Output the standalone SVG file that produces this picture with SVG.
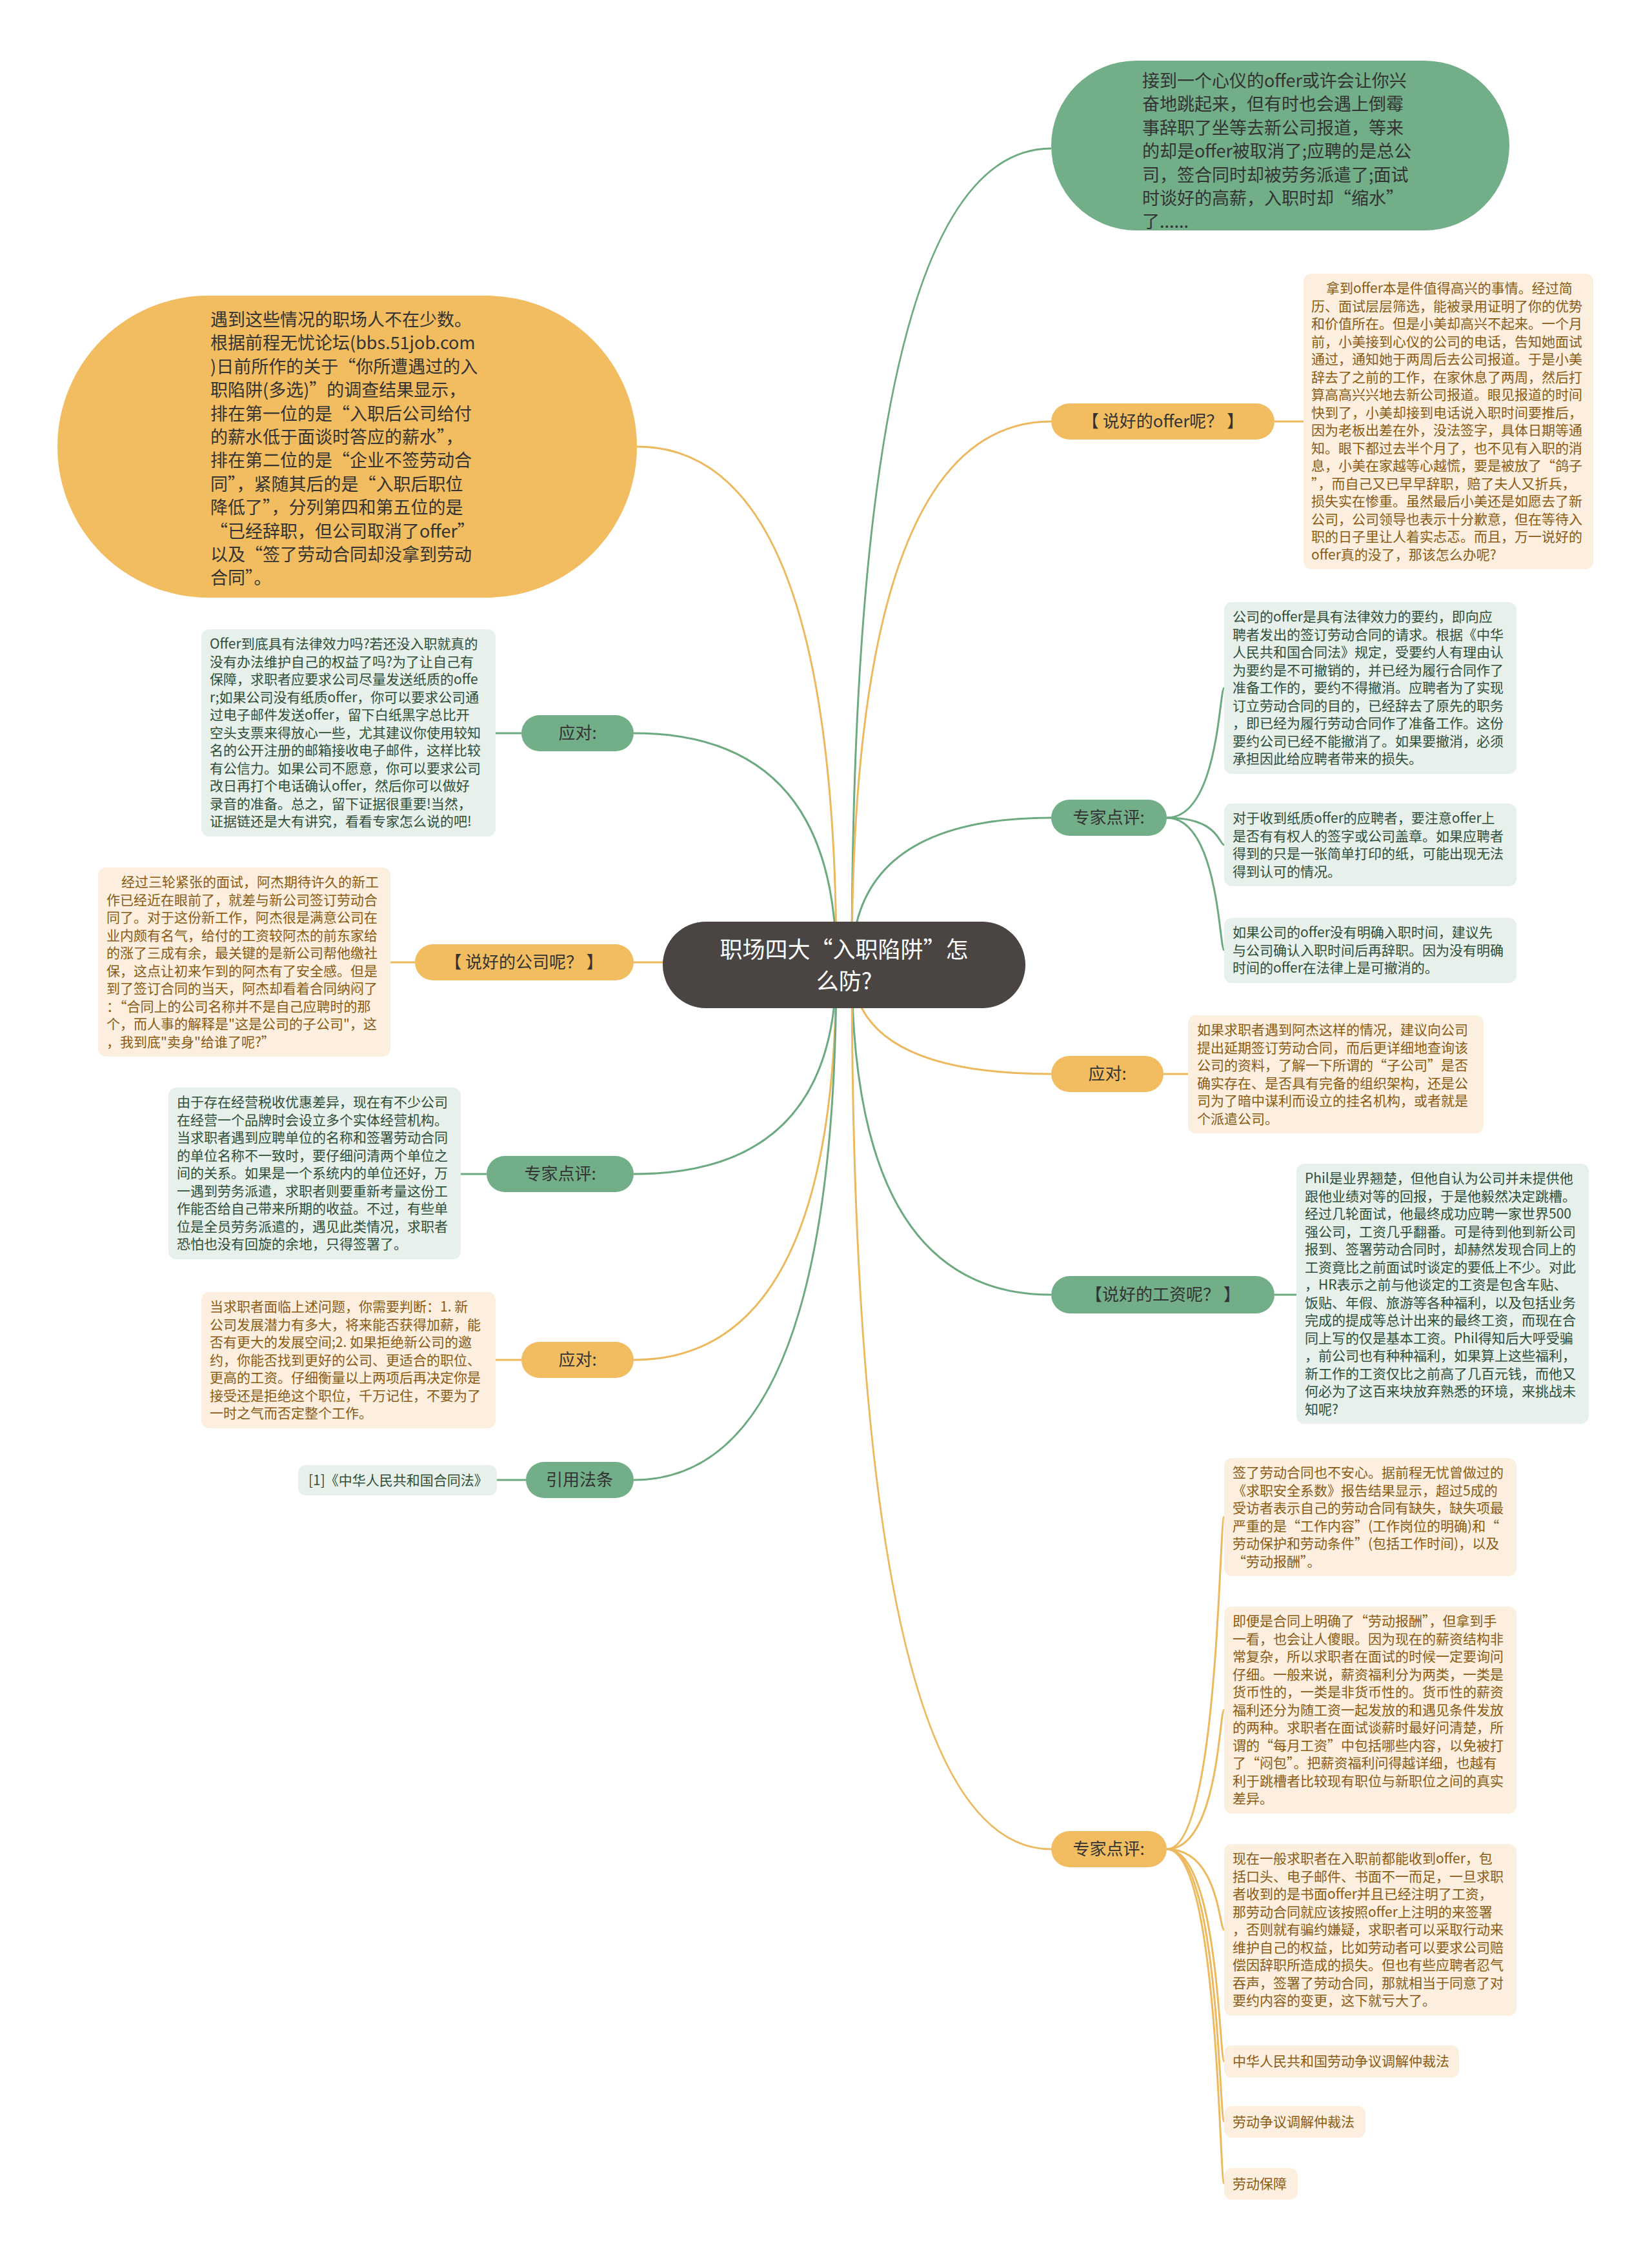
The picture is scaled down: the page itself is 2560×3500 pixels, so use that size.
<svg xmlns="http://www.w3.org/2000/svg" width="2560" height="3500" viewBox="0 0 2560 3500">
<style>
text{font-family:"Noto Sans CJK SC","Noto Sans",sans-serif}
.bg{fill:#ffffff}
.lg{fill:none;stroke:#6daa82;stroke-width:3}
.ly{fill:none;stroke:#ecb95e;stroke-width:3}
.pgb{fill:#e7f0ea}
.pyb{fill:#fcefdf}
.pgt{font-size:21px;fill:#2f4e3a}
.pyt{font-size:21px;fill:#8a5b15}
.glb{fill:#72ae88}
.ylb{fill:#f2bd61}
.lbt{font-size:26px;fill:#333333;text-anchor:middle}
.elt{font-size:27px;fill:#333333}
</style>
<rect class="bg" x="0" y="0" width="2560" height="3500"/>
<g id="connectors">
<path class="lg" d="M1320 1495 Q1320 230 1629 230"/>
<path class="ly" d="M1320 1495 Q1320 653 1629 653"/>
<path class="lg" d="M1320 1495 Q1320 1267 1629 1267"/>
<path class="ly" d="M1320 1495 Q1320 1664 1629 1664"/>
<path class="lg" d="M1320 1495 Q1320 2006 1629 2006"/>
<path class="ly" d="M1320 1495 Q1320 2865 1629 2865"/>
<path class="ly" d="M1296 1495 Q1296 692 987 692"/>
<path class="lg" d="M1296 1495 Q1296 1136 982 1136"/>
<path class="ly" d="M1296 1495 Q1296 1491 982 1491"/>
<path class="lg" d="M1296 1495 Q1296 1819 982 1819"/>
<path class="ly" d="M1296 1495 Q1296 2107 982 2107"/>
<path class="lg" d="M1296 1495 Q1296 2293 982 2293"/>
<path class="ly" d="M1975 653 L2020 653"/>
<path class="lg" d="M1808 1267 C1889 1267 1889 1066 1897 1066"/>
<path class="lg" d="M1808 1267 C1889 1267 1889 1309 1897 1309"/>
<path class="lg" d="M1808 1267 C1889 1267 1889 1472 1897 1472"/>
<path class="ly" d="M1803 1664 L1841 1664"/>
<path class="lg" d="M1975 2006 L2009 2006"/>
<path class="ly" d="M1808 2865 C1889 2865 1889 2350 1897 2350"/>
<path class="ly" d="M1808 2865 C1889 2865 1889 2649 1897 2649"/>
<path class="ly" d="M1808 2865 C1889 2865 1889 2990 1897 2990"/>
<path class="ly" d="M1808 2865 C1889 2865 1889 3194 1897 3194"/>
<path class="ly" d="M1808 2865 C1889 2865 1889 3287 1897 3287"/>
<path class="ly" d="M1808 2865 C1889 2865 1889 3383 1897 3383"/>
<path class="lg" d="M808 1136 L768 1136"/>
<path class="ly" d="M643 1491 L605 1491"/>
<path class="lg" d="M754 1819 L714 1819"/>
<path class="ly" d="M808 2107 L768 2107"/>
<path class="lg" d="M815 2293 L770 2293"/>
</g>
<g id="root">
<rect x="1027" y="1428" width="562" height="134" rx="67" fill="#4a4542"/>
<text x="1308" y="1484" font-size="35" fill="#ffffff" text-anchor="middle">职场四大“入职陷阱”怎</text>
<text x="1308" y="1533" font-size="35" fill="#ffffff" text-anchor="middle">么防?</text>
</g>
<g id="n-top-ellipse">
<rect x="1629" y="94" width="710" height="263" rx="131.5" class="glb"/>
<text class="elt" x="1770" y="135">接到一个心仪的offer或许会让你兴<tspan x="1770" dy="36.4">奋地跳起来，但有时也会遇上倒霉</tspan><tspan x="1770" dy="36.4">事辞职了坐等去新公司报道，等来</tspan><tspan x="1770" dy="36.4">的却是offer被取消了;应聘的是总公</tspan><tspan x="1770" dy="36.4">司，签合同时却被劳务派遣了;面试</tspan><tspan x="1770" dy="36.4">时谈好的高薪，入职时却“缩水”</tspan><tspan x="1770" dy="36.4">了......</tspan></text>
</g>
<g id="n-left-ellipse">
<rect x="89" y="458" width="898" height="468" rx="234" class="ylb"/>
<text class="elt" x="326" y="505">遇到这些情况的职场人不在少数。<tspan x="326" dy="36.4">根据前程无忧论坛(bbs.51job.com</tspan><tspan x="326" dy="36.4">)日前所作的关于“你所遭遇过的入</tspan><tspan x="326" dy="36.4">职陷阱(多选)”的调查结果显示，</tspan><tspan x="326" dy="36.4">排在第一位的是“入职后公司给付</tspan><tspan x="326" dy="36.4">的薪水低于面谈时答应的薪水”，</tspan><tspan x="326" dy="36.4">排在第二位的是“企业不签劳动合</tspan><tspan x="326" dy="36.4">同”，紧随其后的是“入职后职位</tspan><tspan x="326" dy="36.4">降低了”，分列第四和第五位的是</tspan><tspan x="326" dy="36.4">“已经辞职，但公司取消了offer”</tspan><tspan x="326" dy="36.4">以及“签了劳动合同却没拿到劳动</tspan><tspan x="326" dy="36.4">合同”。</tspan></text>
</g>
<g id="n-offer-label">
<rect x="1629" y="625" width="346" height="56" rx="28" class="ylb"/>
<text class="lbt" x="1802" y="662">【 说好的offer呢？ 】</text>
</g>
<g id="n-offer-text">
<rect x="2020" y="424" width="449" height="458" rx="12" class="pyb"/>
<text class="pyt" x="2032" y="454"><tspan x="2055">拿到offer本是件值得高兴的事情。经过简</tspan><tspan x="2032" dy="27.5">历、面试层层筛选，能被录用证明了你的优势</tspan><tspan x="2032" dy="27.5">和价值所在。但是小美却高兴不起来。一个月</tspan><tspan x="2032" dy="27.5">前，小美接到心仪的公司的电话，告知她面试</tspan><tspan x="2032" dy="27.5">通过，通知她于两周后去公司报道。于是小美</tspan><tspan x="2032" dy="27.5">辞去了之前的工作，在家休息了两周，然后打</tspan><tspan x="2032" dy="27.5">算高高兴兴地去新公司报道。眼见报道的时间</tspan><tspan x="2032" dy="27.5">快到了，小美却接到电话说入职时间要推后，</tspan><tspan x="2032" dy="27.5">因为老板出差在外，没法签字，具体日期等通</tspan><tspan x="2032" dy="27.5">知。眼下都过去半个月了，也不见有入职的消</tspan><tspan x="2032" dy="27.5">息，小美在家越等心越慌，要是被放了“鸽子</tspan><tspan x="2032" dy="27.5">”，而自己又已早早辞职，赔了夫人又折兵，</tspan><tspan x="2032" dy="27.5">损失实在惨重。虽然最后小美还是如愿去了新</tspan><tspan x="2032" dy="27.5">公司，公司领导也表示十分歉意，但在等待入</tspan><tspan x="2032" dy="27.5">职的日子里让人着实忐忑。而且，万一说好的</tspan><tspan x="2032" dy="27.5">offer真的没了，那该怎么办呢?</tspan></text>
</g>
<g id="n-expert1-label">
<rect x="1629" y="1239" width="179" height="56" rx="28" class="glb"/>
<text class="lbt" x="1718" y="1276">专家点评:</text>
</g>
<g id="n-expert1-a">
<rect x="1897" y="933" width="453" height="266" rx="12" class="pgb"/>
<text class="pgt" x="1910" y="963">公司的offer是具有法律效力的要约，即向应<tspan x="1910" dy="27.5">聘者发出的签订劳动合同的请求。根据《中华</tspan><tspan x="1910" dy="27.5">人民共和国合同法》规定，受要约人有理由认</tspan><tspan x="1910" dy="27.5">为要约是不可撤销的，并已经为履行合同作了</tspan><tspan x="1910" dy="27.5">准备工作的，要约不得撤消。应聘者为了实现</tspan><tspan x="1910" dy="27.5">订立劳动合同的目的，已经辞去了原先的职务</tspan><tspan x="1910" dy="27.5">，即已经为履行劳动合同作了准备工作。这份</tspan><tspan x="1910" dy="27.5">要约公司已经不能撤消了。如果要撤消，必须</tspan><tspan x="1910" dy="27.5">承担因此给应聘者带来的损失。</tspan></text>
</g>
<g id="n-expert1-b">
<rect x="1897" y="1245" width="453" height="128" rx="12" class="pgb"/>
<text class="pgt" x="1910" y="1275">对于收到纸质offer的应聘者，要注意offer上<tspan x="1910" dy="27.5">是否有有权人的签字或公司盖章。如果应聘者</tspan><tspan x="1910" dy="27.5">得到的只是一张简单打印的纸，可能出现无法</tspan><tspan x="1910" dy="27.5">得到认可的情况。</tspan></text>
</g>
<g id="n-expert1-c">
<rect x="1897" y="1422" width="453" height="101" rx="12" class="pgb"/>
<text class="pgt" x="1910" y="1452">如果公司的offer没有明确入职时间，建议先<tspan x="1910" dy="27.5">与公司确认入职时间后再辞职。因为没有明确</tspan><tspan x="1910" dy="27.5">时间的offer在法律上是可撤消的。</tspan></text>
</g>
<g id="n-respond1-label">
<rect x="1629" y="1636" width="174" height="56" rx="28" class="ylb"/>
<text class="lbt" x="1716" y="1673">应对:</text>
</g>
<g id="n-respond1-text">
<rect x="1841" y="1573" width="458" height="183" rx="12" class="pyb"/>
<text class="pyt" x="1855" y="1603">如果求职者遇到阿杰这样的情况，建议向公司<tspan x="1855" dy="27.5">提出延期签订劳动合同，而后更详细地查询该</tspan><tspan x="1855" dy="27.5">公司的资料，了解一下所谓的“子公司”是否</tspan><tspan x="1855" dy="27.5">确实存在、是否具有完备的组织架构，还是公</tspan><tspan x="1855" dy="27.5">司为了暗中谋利而设立的挂名机构，或者就是</tspan><tspan x="1855" dy="27.5">个派遣公司。</tspan></text>
</g>
<g id="n-salary-label">
<rect x="1629" y="1977" width="346" height="58" rx="29" class="glb"/>
<text class="lbt" x="1802" y="2015">【说好的工资呢？ 】</text>
</g>
<g id="n-salary-text">
<rect x="2009" y="1803" width="453" height="403" rx="12" class="pgb"/>
<text class="pgt" x="2022" y="1833">Phil是业界翘楚，但他自认为公司并未提供他<tspan x="2022" dy="27.5">跟他业绩对等的回报，于是他毅然决定跳槽。</tspan><tspan x="2022" dy="27.5">经过几轮面试，他最终成功应聘一家世界500</tspan><tspan x="2022" dy="27.5">强公司，工资几乎翻番。可是待到他到新公司</tspan><tspan x="2022" dy="27.5">报到、签署劳动合同时，却赫然发现合同上的</tspan><tspan x="2022" dy="27.5">工资竟比之前面试时谈定的要低上不少。对此</tspan><tspan x="2022" dy="27.5">，HR表示之前与他谈定的工资是包含车贴、</tspan><tspan x="2022" dy="27.5">饭贴、年假、旅游等各种福利，以及包括业务</tspan><tspan x="2022" dy="27.5">完成的提成等总计出来的最终工资，而现在合</tspan><tspan x="2022" dy="27.5">同上写的仅是基本工资。Phil得知后大呼受骗</tspan><tspan x="2022" dy="27.5">，前公司也有种种福利，如果算上这些福利，</tspan><tspan x="2022" dy="27.5">新工作的工资仅比之前高了几百元钱，而他又</tspan><tspan x="2022" dy="27.5">何必为了这百来块放弃熟悉的环境，来挑战未</tspan><tspan x="2022" dy="27.5">知呢?</tspan></text>
</g>
<g id="n-expert2-label">
<rect x="1629" y="2837" width="179" height="56" rx="28" class="ylb"/>
<text class="lbt" x="1718" y="2874">专家点评:</text>
</g>
<g id="n-expert2-a">
<rect x="1897" y="2259" width="453" height="183" rx="12" class="pyb"/>
<text class="pyt" x="1910" y="2289">签了劳动合同也不安心。据前程无忧曾做过的<tspan x="1910" dy="27.5">《求职安全系数》报告结果显示，超过5成的</tspan><tspan x="1910" dy="27.5">受访者表示自己的劳动合同有缺失，缺失项最</tspan><tspan x="1910" dy="27.5">严重的是“工作内容”(工作岗位的明确)和“</tspan><tspan x="1910" dy="27.5">劳动保护和劳动条件”(包括工作时间)，以及</tspan><tspan x="1910" dy="27.5">“劳动报酬”。</tspan></text>
</g>
<g id="n-expert2-b">
<rect x="1897" y="2489" width="453" height="321" rx="12" class="pyb"/>
<text class="pyt" x="1910" y="2519">即便是合同上明确了“劳动报酬”，但拿到手<tspan x="1910" dy="27.5">一看，也会让人傻眼。因为现在的薪资结构非</tspan><tspan x="1910" dy="27.5">常复杂，所以求职者在面试的时候一定要询问</tspan><tspan x="1910" dy="27.5">仔细。一般来说，薪资福利分为两类，一类是</tspan><tspan x="1910" dy="27.5">货币性的，一类是非货币性的。货币性的薪资</tspan><tspan x="1910" dy="27.5">福利还分为随工资一起发放的和遇见条件发放</tspan><tspan x="1910" dy="27.5">的两种。求职者在面试谈薪时最好问清楚，所</tspan><tspan x="1910" dy="27.5">谓的“每月工资”中包括哪些内容，以免被打</tspan><tspan x="1910" dy="27.5">了“闷包”。把薪资福利问得越详细，也越有</tspan><tspan x="1910" dy="27.5">利于跳槽者比较现有职位与新职位之间的真实</tspan><tspan x="1910" dy="27.5">差异。</tspan></text>
</g>
<g id="n-expert2-c">
<rect x="1897" y="2857" width="453" height="266" rx="12" class="pyb"/>
<text class="pyt" x="1910" y="2887">现在一般求职者在入职前都能收到offer，包<tspan x="1910" dy="27.5">括口头、电子邮件、书面不一而足，一旦求职</tspan><tspan x="1910" dy="27.5">者收到的是书面offer并且已经注明了工资，</tspan><tspan x="1910" dy="27.5">那劳动合同就应该按照offer上注明的来签署</tspan><tspan x="1910" dy="27.5">，否则就有骗约嫌疑，求职者可以采取行动来</tspan><tspan x="1910" dy="27.5">维护自己的权益，比如劳动者可以要求公司赔</tspan><tspan x="1910" dy="27.5">偿因辞职所造成的损失。但也有些应聘者忍气</tspan><tspan x="1910" dy="27.5">吞声，签署了劳动合同，那就相当于同意了对</tspan><tspan x="1910" dy="27.5">要约内容的变更，这下就亏大了。</tspan></text>
</g>
<g id="n-expert2-d">
<rect x="1897" y="3169" width="364" height="50" rx="12" class="pyb"/>
<text class="pyt" x="1910" y="3201">中华人民共和国劳动争议调解仲裁法</text>
</g>
<g id="n-expert2-e">
<rect x="1897" y="3263" width="219" height="49" rx="12" class="pyb"/>
<text class="pyt" x="1910" y="3295">劳动争议调解仲裁法</text>
</g>
<g id="n-expert2-f">
<rect x="1897" y="3359" width="114" height="49" rx="12" class="pyb"/>
<text class="pyt" x="1910" y="3391">劳动保障</text>
</g>
<g id="n-respond2-label">
<rect x="808" y="1108" width="174" height="56" rx="28" class="glb"/>
<text class="lbt" x="895" y="1145">应对:</text>
</g>
<g id="n-respond2-text">
<rect x="312" y="975" width="456" height="321" rx="12" class="pgb"/>
<text class="pgt" x="325" y="1005">Offer到底具有法律效力吗?若还没入职就真的<tspan x="325" dy="27.5">没有办法维护自己的权益了吗?为了让自己有</tspan><tspan x="325" dy="27.5">保障，求职者应要求公司尽量发送纸质的offe</tspan><tspan x="325" dy="27.5">r;如果公司没有纸质offer，你可以要求公司通</tspan><tspan x="325" dy="27.5">过电子邮件发送offer，留下白纸黑字总比开</tspan><tspan x="325" dy="27.5">空头支票来得放心一些，尤其建议你使用较知</tspan><tspan x="325" dy="27.5">名的公开注册的邮箱接收电子邮件，这样比较</tspan><tspan x="325" dy="27.5">有公信力。如果公司不愿意，你可以要求公司</tspan><tspan x="325" dy="27.5">改日再打个电话确认offer，然后你可以做好</tspan><tspan x="325" dy="27.5">录音的准备。总之，留下证据很重要!当然，</tspan><tspan x="325" dy="27.5">证据链还是大有讲究，看看专家怎么说的吧!</tspan></text>
</g>
<g id="n-company-label">
<rect x="643" y="1463" width="339" height="56" rx="28" class="ylb"/>
<text class="lbt" x="812" y="1500">【 说好的公司呢？ 】</text>
</g>
<g id="n-company-text">
<rect x="152" y="1344" width="453" height="293" rx="12" class="pyb"/>
<text class="pyt" x="165" y="1374"><tspan x="188">经过三轮紧张的面试，阿杰期待许久的新工</tspan><tspan x="165" dy="27.5">作已经近在眼前了，就差与新公司签订劳动合</tspan><tspan x="165" dy="27.5">同了。对于这份新工作，阿杰很是满意公司在</tspan><tspan x="165" dy="27.5">业内颇有名气，给付的工资较阿杰的前东家给</tspan><tspan x="165" dy="27.5">的涨了三成有余，最关键的是新公司帮他缴社</tspan><tspan x="165" dy="27.5">保，这点让初来乍到的阿杰有了安全感。但是</tspan><tspan x="165" dy="27.5">到了签订合同的当天，阿杰却看着合同纳闷了</tspan><tspan x="165" dy="27.5">：“合同上的公司名称并不是自己应聘时的那</tspan><tspan x="165" dy="27.5">个，而人事的解释是"这是公司的子公司"，这</tspan><tspan x="165" dy="27.5">，我到底"卖身"给谁了呢?”</tspan></text>
</g>
<g id="n-expert3-label">
<rect x="754" y="1791" width="228" height="56" rx="28" class="glb"/>
<text class="lbt" x="868" y="1828">专家点评:</text>
</g>
<g id="n-expert3-text">
<rect x="261" y="1685" width="453" height="266" rx="12" class="pgb"/>
<text class="pgt" x="274" y="1715">由于存在经营税收优惠差异，现在有不少公司<tspan x="274" dy="27.5">在经营一个品牌时会设立多个实体经营机构。</tspan><tspan x="274" dy="27.5">当求职者遇到应聘单位的名称和签署劳动合同</tspan><tspan x="274" dy="27.5">的单位名称不一致时，要仔细问清两个单位之</tspan><tspan x="274" dy="27.5">间的关系。如果是一个系统内的单位还好，万</tspan><tspan x="274" dy="27.5">一遇到劳务派遣，求职者则要重新考量这份工</tspan><tspan x="274" dy="27.5">作能否给自己带来所期的收益。不过，有些单</tspan><tspan x="274" dy="27.5">位是全员劳务派遣的，遇见此类情况，求职者</tspan><tspan x="274" dy="27.5">恐怕也没有回旋的余地，只得签署了。</tspan></text>
</g>
<g id="n-respond3-label">
<rect x="808" y="2079" width="174" height="56" rx="28" class="ylb"/>
<text class="lbt" x="895" y="2116">应对:</text>
</g>
<g id="n-respond3-text">
<rect x="312" y="2002" width="456" height="211" rx="12" class="pyb"/>
<text class="pyt" x="325" y="2032">当求职者面临上述问题，你需要判断：1. 新<tspan x="325" dy="27.5">公司发展潜力有多大，将来能否获得加薪，能</tspan><tspan x="325" dy="27.5">否有更大的发展空间;2. 如果拒绝新公司的邀</tspan><tspan x="325" dy="27.5">约，你能否找到更好的公司、更适合的职位、</tspan><tspan x="325" dy="27.5">更高的工资。仔细衡量以上两项后再决定你是</tspan><tspan x="325" dy="27.5">接受还是拒绝这个职位，千万记住，不要为了</tspan><tspan x="325" dy="27.5">一时之气而否定整个工作。</tspan></text>
</g>
<g id="n-law-label">
<rect x="815" y="2265" width="167" height="56" rx="28" class="glb"/>
<text class="lbt" x="898" y="2302">引用法条</text>
</g>
<g id="n-law-text">
<rect x="462" y="2270" width="308" height="47" rx="12" class="pgb"/>
<text class="pgt" x="478" y="2301" font-size="20">[1]《中华人民共和国合同法》</text>
</g>
</svg>
